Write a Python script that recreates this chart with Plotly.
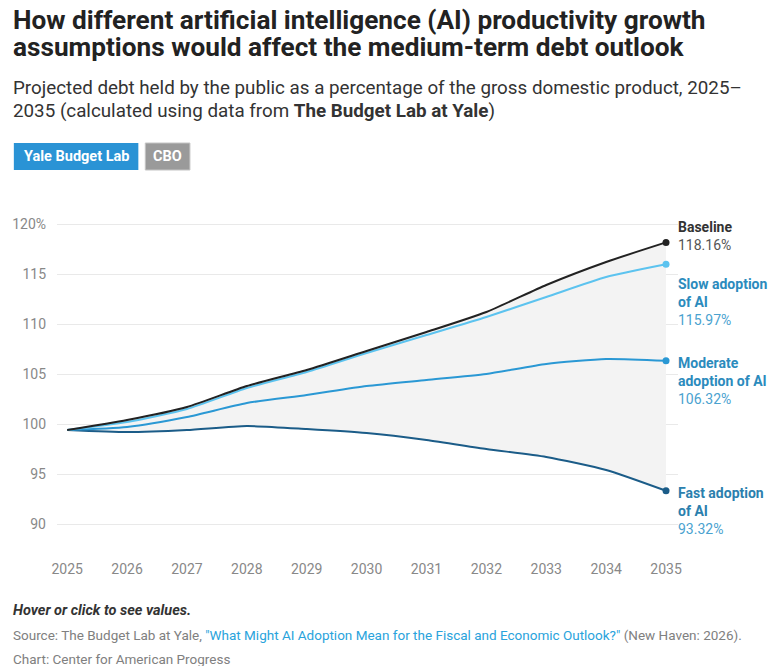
import plotly.graph_objects as go

years = list(range(2025, 2036))
baseline = [99.4, 100.4, 101.7, 103.8, 105.4, 107.3, 109.2, 111.2, 113.9, 116.2, 118.16]
slow = [99.4, 100.2, 101.5, 103.6, 105.2, 107.1, 108.9, 110.7, 112.7, 114.7, 115.97]
moderate = [99.4, 99.7, 100.7, 102.1, 102.9, 103.8, 104.4, 105.0, 106.0, 106.5, 106.32]
fast = [99.4, 99.2, 99.4, 99.8, 99.5, 99.1, 98.4, 97.5, 96.7, 95.4, 93.32]

series_names = ["Baseline", "Slow adoption of AI", "Moderate adoption of AI", "Fast adoption of AI"]
label_names = ["Baseline", "Slow adoption<br>of AI", "Moderate<br>adoption of AI", "Fast adoption<br>of AI"]
line_colors = ["#222222", "#5cc3ef", "#2a98d4", "#1b5c88"]
name_colors = ["#333333", "#2b8bbd", "#2b8bbd", "#2b7fae"]
value_colors = ["#555555", "#4aa2cf", "#4aa2cf", "#4aa2cf"]
label_shift = [6, -38, -20, -20]

y_ticks = [90, 95, 100, 105, 110, 115, 120]
y_ticktext = ["90", "95", "100", "105", "110", "115", "120%"]

W, H = 780, 666
L, R, T, B = 52, 102, 214, 107
plot_w = W - L - R
plot_h = H - T - B


def px(x):
    return (x - L) / plot_w


def py(y):
    return (H - B - y) / plot_h


FONT = "Roboto, Arial, sans-serif"
all_series = [baseline, slow, moderate, fast]

fig = go.Figure()

# shaded band between the fast and baseline paths
fig.add_trace(go.Scatter(x=years, y=fast, mode="lines", line=dict(width=0, shape="spline", smoothing=0.6),
                         hoverinfo="skip", showlegend=False))
fig.add_trace(go.Scatter(x=years, y=baseline, mode="lines", line=dict(width=0, shape="spline", smoothing=0.6),
                         fill="tonexty", fillcolor="#f3f3f3", hoverinfo="skip", showlegend=False))

for name, vals, color in reversed(list(zip(series_names, all_series, line_colors))):
    fig.add_trace(go.Scatter(
        x=years, y=vals, name=name, mode="lines",
        line=dict(color=color, width=2, shape="spline", smoothing=0.6),
        hovertemplate="%{y:.2f}%<extra>" + name + "</extra>",
        showlegend=False,
    ))

fig.add_trace(go.Scatter(
    x=[years[-1]] * 4, y=[s[-1] for s in all_series], mode="markers",
    marker=dict(color=line_colors, size=7), hoverinfo="skip", showlegend=False,
))

for lab, vals, nc, vc, sh in zip(label_names, all_series, name_colors, value_colors, label_shift):
    fig.add_annotation(
        x=years[-1], y=vals[-1], xref="x", yref="y",
        text=f"<b>{lab}</b><br><span style='color:{vc}'>{vals[-1]:.2f}%</span>",
        showarrow=False, xanchor="left", yanchor="middle", align="left",
        xshift=10, yshift=sh, font=dict(family=FONT, size=14, color=nc),
    )


def text_line(txt, x, y, size, color, anchor="left"):
    fig.add_annotation(
        x=px(x), y=py(y), xref="paper", yref="paper", xanchor=anchor, yanchor="middle", align="left",
        text=txt, showarrow=False, font=dict(family=FONT, size=size, color=color),
    )


# header text
text_line("<b>How different artificial intelligence (AI) productivity growth</b>", 6, 20, 26.2, "#222222")
text_line("<b>assumptions would affect the medium-term debt outlook</b>", 6, 47, 26.2, "#222222")
text_line("Projected debt held by the public as a percentage of the gross domestic product, 2025–",
          6, 88, 18.8, "#333333")
text_line("2035 (calculated using data from <b>The Budget Lab at Yale</b>)", 6, 111, 18.8, "#333333")

# toggle buttons (static)
fig.add_shape(type="rect", xref="paper", yref="paper", x0=px(8.5), x1=px(134), y0=py(170), y1=py(143),
              fillcolor="#2a93d5", line=dict(width=0))
fig.add_shape(type="rect", xref="paper", yref="paper", x0=px(141), x1=px(186), y0=py(170), y1=py(143),
              fillcolor="#9a9a9a", line=dict(width=1, color="#c4c4c4"))
text_line("<b>Yale Budget Lab</b>", 71.5, 156.5, 14.5, "white", anchor="center")
text_line("<b>CBO</b>", 163.5, 156.5, 14.5, "white", anchor="center")

# footer
text_line("<b><i>Hover or click to see values.</i></b>", 6, 610, 14.5, "#333333")
text_line("Source: The Budget Lab at Yale, <span style='color:#29a3dc'>\"What Might AI Adoption Mean for the "
          "Fiscal and Economic Outlook?\"</span> (New Haven: 2026).", 6, 635, 13.5, "#808080")
text_line("Chart: Center for American Progress", 6, 659, 13.5, "#808080")

fig.update_layout(
    width=W, height=H,
    margin=dict(l=L, r=R, t=T, b=B),
    plot_bgcolor="white", paper_bgcolor="white",
    font=dict(family=FONT, color="#888888"),
    hovermode="x unified",
    xaxis=dict(
        range=[2024.83, 2035.2], tickvals=years, showgrid=False, zeroline=False,
        showline=False, ticks="", tickfont=dict(size=14, color="#888888"),
    ),
    yaxis=dict(
        range=[86.5, 121.0], tickvals=y_ticks, ticktext=y_ticktext,
        showgrid=True, gridcolor="#e9e9e9", gridwidth=1, zeroline=False,
        showline=False, ticks="", ticklabelstandoff=10, tickfont=dict(size=14, color="#888888"),
    ),
)

fig.write_html("out.html", config={"displayModeBar": False},
               post_script="document.body.style.margin='0';")
